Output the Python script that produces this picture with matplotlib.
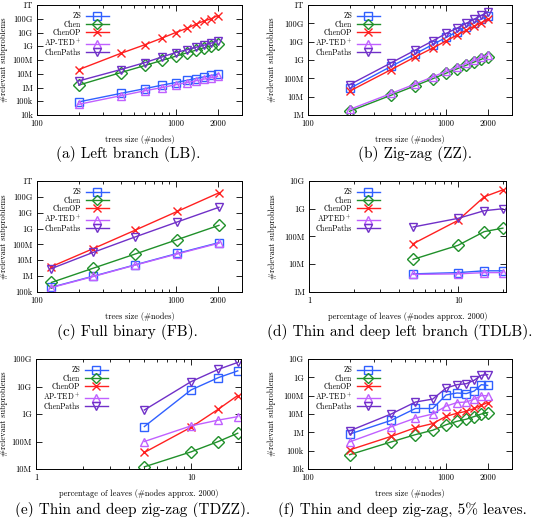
import matplotlib
matplotlib.use('Agg')
import matplotlib.pyplot as plt
from matplotlib.ticker import FixedLocator, LogLocator, NullFormatter

plt.rcParams['font.family'] = ['cmr10', 'DejaVu Serif']
plt.rcParams['mathtext.fontset'] = 'cm'
plt.rcParams['axes.formatter.use_mathtext'] = True

names = ['ZS', 'Chen', 'ChenOP', 'AP-TED$^+$', 'ChenPaths']
names_d = ['ZS', 'Chen', 'ChenOP', 'APTED$^+$', 'ChenPaths']
colors = ['#3060ff', '#20902a', '#ff2020', '#c060ff', '#7030c8']
markers = ['s', 'D', 'x', '^', 'v']

k, M, G = 1e3, 1e6, 1e9

# (a) left branch
sizes = [200, 400, 600, 800, 1000, 1200, 1400, 1600, 1800, 2000]
lb_zs = [90*k, 370*k, 830*k, 1.5*M, 2.3*M, 3.3*M, 4.5*M, 6*M, 7.5*M, 9.2*M]
lb_chen = [1.5*M, 12*M, 40*M, 95*M, 190*M, 330*M, 520*M, 780*M, 1.1*G, 1.5*G]
lb_chenop = [20*M, 300*M, 1.3*G, 4*G, 10*G, 20*G, 40*G, 70*G, 100*G, 170*G]
lb_apted = [60*k, 250*k, 580*k, 1.0*M, 1.6*M, 2.3*M, 3.1*M, 4.1*M, 5.2*M, 6.4*M]
lb_paths = [3*M, 20*M, 65*M, 170*M, 350*M, 550*M, 850*M, 1.2*G, 1.7*G, 2.5*G]

# (b) zig-zag
zz_zs = [28*M, 450*M, 2.2*G, 7*G, 17*G, 35*G, 65*G, 110*G, 170*G, 260*G]
zz_chen = [1.6*M, 12*M, 40*M, 95*M, 190*M, 330*M, 520*M, 780*M, 1.1*G, 1.5*G]
zz_chenop = [20*M, 300*M, 1.5*G, 4.5*G, 11*G, 23*G, 42*G, 70*G, 110*G, 170*G]
zz_apted = [2*M, 15*M, 50*M, 120*M, 240*M, 410*M, 650*M, 970*M, 1.4*G, 1.9*G]
zz_paths = [45*M, 700*M, 3.5*G, 11*G, 28*G, 55*G, 100*G, 170*G, 270*G, 420*G]

# (c) full binary
fb_sizes = [127, 255, 511, 1023, 2047]
fb_zs = [200*k, 1.0*M, 5.2*M, 27*M, 130*M]
fb_chen = [400*k, 3.2*M, 25*M, 200*M, 1.6*G]
fb_chenop = [4*M, 55*M, 800*M, 12*G, 180*G]
fb_apted = [190*k, 950*k, 5*M, 25*M, 120*M]
fb_paths = [3*M, 32*M, 300*M, 2.6*G, 22*G]

# (d) thin and deep left branch
leaves = [5, 10, 15, 20]
tdlb_zs = [4.5*M, 5*M, 5.8*M, 5.8*M]
tdlb_chen = [15*M, 48*M, 150*M, 200*M]
tdlb_chenop = [55*M, 380*M, 2.7*G, 4.8*G]
tdlb_apted = [4.3*M, 4.5*M, 5*M, 5*M]
tdlb_paths = [220*M, 450*M, 850*M, 1*G]

# (e) thin and deep zig-zag
tdzz_zs = [350*M, 7.5*G, 21*G, 37*G]
tdzz_chen = [12*M, 42*M, 100*M, 200*M]
tdzz_chenop = [40*M, 330*M, 1.5*G, 4.7*G]
tdzz_apted = [100*M, 370*M, 600*M, 800*M]
tdzz_paths = [1.4*G, 15*G, 42*G, 75*G]

# (f) thin and deep zig-zag, 5% leaves
tz5_zs = [0.8*M, 4.5*M, 20*M, 20*M, 110*M, 140*M, 130*M, 180*M, 400*M, 360*M]
tz5_chen = [60*k, 300*k, 750*k, 1.3*M, 2.6*M, 4*M, 5.2*M, 7.3*M, 10*M, 12*M]
tz5_chenop = [110*k, 600*k, 1.8*M, 3*M, 7.5*M, 11*M, 14*M, 20*M, 30*M, 42*M]
tz5_apted = [300*k, 2*M, 6*M, 10*M, 27*M, 42*M, 45*M, 65*M, 100*M, 100*M]
tz5_paths = [1.2*M, 10*M, 45*M, 65*M, 260*M, 400*M, 450*M, 700*M, 1.3*G, 1.4*G]

ylabels_all = {1e4: '10k', 1e5: '100k', 1e6: '1M', 1e7: '10M', 1e8: '100M',
               1e9: '1G', 1e10: '10G', 1e11: '100G', 1e12: '1T'}

W, H = 535, 517
fig = plt.figure(figsize=(W/100, H/100), dpi=100)


def panel(box, x, series, labels, ylim, xlim, xticks, xlabel, caption, capx, capy, ylabx):
    l, t, w, h = box
    ax = fig.add_axes([l/W, 1 - (t+h)/H, w/W, h/H])
    for ys, lab, c, m in zip(series, labels, colors, markers):
        ax.plot(x, ys, color=c, marker=m, mfc='none', mec=c, ms=6.0, mew=1.0, lw=1.0, label=lab)
    ax.set_xscale('log')
    ax.set_yscale('log')
    ax.set_xlim(*xlim)
    ax.set_ylim(*ylim)
    ax.xaxis.set_major_locator(FixedLocator(xticks))
    ax.set_xticklabels([str(v) for v in xticks])
    ax.xaxis.set_minor_locator(LogLocator(subs=range(2, 10)))
    ax.xaxis.set_minor_formatter(NullFormatter())
    yt = [v for v in sorted(ylabels_all) if ylim[0] <= v <= ylim[1] * 1.01]
    ax.yaxis.set_major_locator(FixedLocator(yt))
    ax.set_yticklabels([ylabels_all[v] for v in yt])
    ax.yaxis.set_minor_locator(FixedLocator([]))
    ax.tick_params(which='both', direction='in', top=True, right=True, labelsize=6, pad=3)
    ax.tick_params(which='major', length=4, width=0.6)
    ax.tick_params(which='minor', length=2, width=0.6)
    for s in ax.spines.values():
        s.set_linewidth(0.7)
    ax.set_xlabel(xlabel, fontsize=6, labelpad=5)
    ax.set_ylabel('#relevant subproblems', fontsize=6)
    ax.yaxis.set_label_coords((ylabx - l) / w, 0.5)
    ax.legend(loc='upper left', bbox_to_anchor=(0.0, 1.0), frameon=False, markerfirst=False,
              fontsize=5.5, labelspacing=0.0, handlelength=3.0, handletextpad=0.6,
              borderaxespad=0.5, markerscale=0.85)
    fig.text(capx/W, 1 - capy/H, caption, ha='center', va='center', fontsize=11)
    return ax


tsize = 'trees size (#nodes)'
pleaves = 'percentage of leaves (#nodes approx. 2000)'

panel((37, 5, 205, 110), sizes, [lb_zs, lb_chen, lb_chenop, lb_apted, lb_paths], names,
      (1e4, 1e12), (100, 3000), [100, 1000, 2000], tsize, '(a) Left branch (LB).', 128, 154, 8)
panel((308, 5, 204, 110), sizes, [zz_zs, zz_chen, zz_chenop, zz_apted, zz_paths], names,
      (1e6, 1e12), (100, 3000), [100, 1000, 2000], tsize, '(b) Zig-zag (ZZ).', 415, 154, 276)
panel((37, 181, 205, 111), fb_sizes, [fb_zs, fb_chen, fb_chenop, fb_apted, fb_paths], names,
      (1e5, 1e12), (100, 3000), [100, 1000, 2000], tsize, '(c) Full binary (FB).', 127, 332, 8)
panel((309, 181, 197, 111), leaves, [tdlb_zs, tdlb_chen, tdlb_chenop, tdlb_apted, tdlb_paths], names_d,
      (1e6, 1e10), (1, 21), [1, 10], pleaves, '(d) Thin and deep left branch (TDLB).', 400, 332, 277)
panel((36, 359, 205, 110), leaves, [tdzz_zs, tdzz_chen, tdzz_chenop, tdzz_apted, tdzz_paths], names,
      (1e7, 1e11), (1, 21), [1, 10], pleaves, '(e) Thin and deep zig-zag (TDZZ).', 133, 510, 8)
panel((308, 359, 204, 110), sizes, [tz5_zs, tz5_chen, tz5_chenop, tz5_apted, tz5_paths], names,
      (1e4, 1e10), (100, 3000), [100, 1000, 2000], tsize, '(f) Thin and deep zig-zag, 5% leaves.', 402, 510, 276)

fig.savefig('out.png', dpi=100)
